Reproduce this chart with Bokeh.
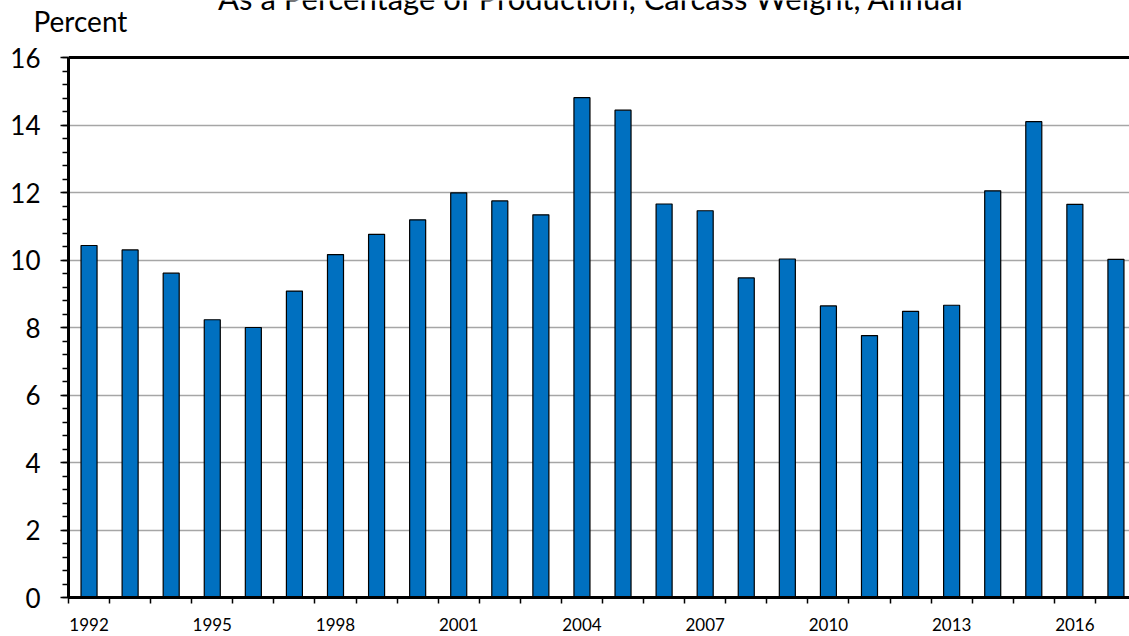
from bokeh.plotting import figure
from bokeh.layouts import column
from bokeh.models import (Range1d, FixedTicker, SingleIntervalTicker, Span,
                          ColumnDataSource)
from bokeh.core.properties import value
from bokeh.embed import file_html
from bokeh.resources import INLINE

# ---- data ----
years = list(range(1992, 2018))
percent = [10.43, 10.30, 9.61, 8.23, 8.00, 9.08, 10.16, 10.76, 11.19, 11.99,
           11.75, 11.34, 14.81, 14.44, 11.66, 11.46, 9.47, 10.03, 8.64, 7.76,
           8.48, 8.66, 12.05, 14.10, 11.65, 10.02]
tick_labels = [1992, 1995, 1998, 2001, 2004, 2007, 2010, 2013, 2016]
title_text = "As a Percentage of Production, Carcass Weight, Annual"
y_title = "Percent"
y_max = 16

FONT = "Lato"
W = 1129
HEAD_H = 40                # height of the heading strip (px)
PX_PER_UNIT = 33.75        # vertical scale in px per percent
GAP = 17                   # px between heading strip and the 16 line

# ---- heading strip (title + unit label) ----
head = figure(width=W, height=HEAD_H, output_backend="svg", toolbar_location=None,
              x_range=Range1d(0, W), y_range=Range1d(0, HEAD_H),
              min_border=0, outline_line_color=None, frame_align=False,
              background_fill_color="white", border_fill_color="white")
head.axis.visible = False
head.grid.visible = False
head.text(x=[591], y=[HEAD_H + 2.5], text=[title_text], text_font=value(FONT),
          text_font_size="31px", text_color="black",
          text_align="center", text_baseline="alphabetic")
head.text(x=[33], y=[HEAD_H - 20], text=[y_title], text_font=value(FONT),
          text_font_size="28px", text_color="black",
          text_align="left", text_baseline="alphabetic")

# ---- chart ----
p = figure(width=W, height=636 - HEAD_H, output_backend="svg",
           toolbar_location=None, frame_align=False,
           x_range=Range1d(1991.5, 2017.33),
           y_range=Range1d(0, y_max + GAP / PX_PER_UNIT),
           min_border_left=68, min_border_right=0, min_border_top=0,
           min_border_bottom=39, outline_line_color=None,
           background_fill_color="white", border_fill_color="white")

src = ColumnDataSource(dict(x=years, top=percent))
p.vbar(x="x", top="top", bottom=0, width=0.39, source=src,
       fill_color="#0070C0", line_color="black", line_width=1.2)

# x axis: labels every 3 years, ticks at category boundaries
xa = p.xaxis[0]
boundaries = [y - 0.5 for y in years] + [years[-1] + 0.5]
xa.ticker = FixedTicker(ticks=tick_labels, minor_ticks=boundaries)
xa.major_tick_out = 0
xa.major_tick_in = 0
xa.minor_tick_out = 6
xa.minor_tick_in = 0
xa.minor_tick_line_color = "black"
xa.minor_tick_line_width = 1.5
xa.axis_line_width = 3
xa.axis_line_color = "black"
xa.major_label_text_font = FONT
xa.major_label_text_font_size = "17px"
xa.major_label_text_color = "black"
xa.major_label_standoff = 14

ya = p.yaxis[0]
ya.ticker = SingleIntervalTicker(interval=2, num_minor_ticks=5)
ya.bounds = (0, y_max)
ya.major_tick_out = 8
ya.major_tick_in = 0
ya.minor_tick_out = 6
ya.minor_tick_in = 0
ya.major_tick_line_width = 1.5
ya.minor_tick_line_width = 1.5
ya.major_tick_line_color = "black"
ya.minor_tick_line_color = "black"
ya.axis_line_width = 3
ya.axis_line_color = "black"
ya.major_label_text_font = FONT
ya.major_label_text_font_size = "26px"
ya.major_label_text_color = "black"
ya.major_label_standoff = 20

p.xgrid.grid_line_color = None
p.ygrid.ticker = FixedTicker(ticks=list(range(2, y_max, 2)))
p.ygrid.grid_line_color = "#A6A6A6"
p.ygrid.grid_line_width = 1.5

# top border of the plot area
p.add_layout(Span(location=y_max, dimension="width", line_color="black",
                  line_width=3))

layout = column(head, p, spacing=0)
open("out.html", "w").write(file_html(layout, INLINE))
